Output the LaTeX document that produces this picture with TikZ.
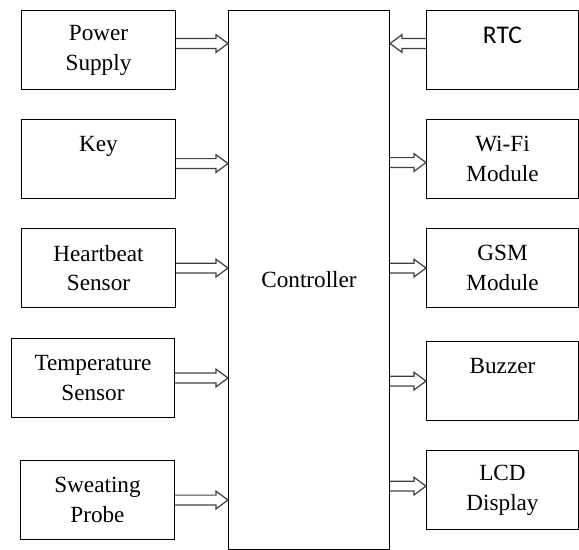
\documentclass[tikz,border=0pt]{standalone}
\usepackage{fontspec}
\setmainfont{Liberation Serif}
\newfontfamily\calfont{Carlito}
\usetikzlibrary{calc, positioning}

\begin{document}
\begin{tikzpicture}[
			x=0.02cm, y=-0.02cm,
			node distance=0.58cm,
			box/.style={rectangle, draw, line width=0.6pt,
				minimum width=3.08cm, minimum height=1.58cm,
				align=center, font=\fontsize{13.2}{17}\selectfont},
			rbox/.style={box, minimum width=3.04cm},
			arrow/.style={draw=black!75, line width=0.7pt, line join=miter,
				to path={let \p1=(\tikztostart), \p2=(\tikztotarget),
					\n1={sign(\x2-\x1)} in
					(\x1,\y1+2.8pt) -- (\x2-\n1*6.8pt,\y1+2.8pt) -- (\x2-\n1*6.8pt,\y1+5pt)
					-- (\x2,\y1) -- (\x2-\n1*6.8pt,\y1-5pt) -- (\x2-\n1*6.8pt,\y1-2.8pt)
					-- (\x1,\y1-2.8pt)}}
			]
			\useasboundingbox (0,0) rectangle (579,550);
			\node[box, anchor=north west, minimum width=3.22cm, minimum height=10.78cm] (ctrl) at (228,10) {Controller};
			
			% inputs
			\node[box, anchor=north west] (ps) at (21,10) {Power\\ Supply};
			\node[box, below=of ps] (key) {Key\\ \mbox{}};
			\node[box, below=of key] (hb) {Heartbeat\\ Sensor};
			\node[box, anchor=north east, minimum width=3.26cm] (temp) at (175,338) {Temperature\\ Sensor};
			\node[box, below=0.84cm of temp.south east, anchor=north east] (sp) {Sweating\\ Probe};
			
			% outputs
			\node[rbox, anchor=north west, font=\calfont\fontsize{14.5}{17}\selectfont] (rtc) at (426,10) {RTC\\ \mbox{}};
			\node[rbox, below=of rtc] (wifi) {Wi-Fi\\ Module};
			\node[rbox, below=of wifi] (gsm) {GSM\\ Module};
			\node[rbox, below=0.66cm of gsm] (buz) {Buzzer\\ \mbox{}};
			\node[rbox, below=of buz] (lcd) {LCD\\ Display};
			
			\draw[arrow] ([yshift=0.13cm]ps.east) to ([yshift=0.13cm]ps.east -| ctrl.west);
			\draw[arrow] ([yshift=-0.09cm]key.east) to ([yshift=-0.09cm]key.east -| ctrl.west);
			\draw[arrow] (hb.east) to (hb.east -| ctrl.west);
			\draw[arrow] (temp.east) to (temp.east -| ctrl.west);
			\draw[arrow] (sp.east) to (sp.east -| ctrl.west);
			\draw[arrow] ([yshift=0.13cm]rtc.west) to ([yshift=0.13cm]rtc.west -| ctrl.east);
			\draw[arrow] ([yshift=-0.07cm]wifi.west -| ctrl.east) to ([yshift=-0.07cm]wifi.west);
			\draw[arrow] (gsm.west -| ctrl.east) to (gsm.west);
			\draw[arrow] (buz.west -| ctrl.east) to (buz.west);
			\draw[arrow] ([yshift=0.08cm]lcd.west -| ctrl.east) to ([yshift=0.08cm]lcd.west);
		\end{tikzpicture}
\end{document}
